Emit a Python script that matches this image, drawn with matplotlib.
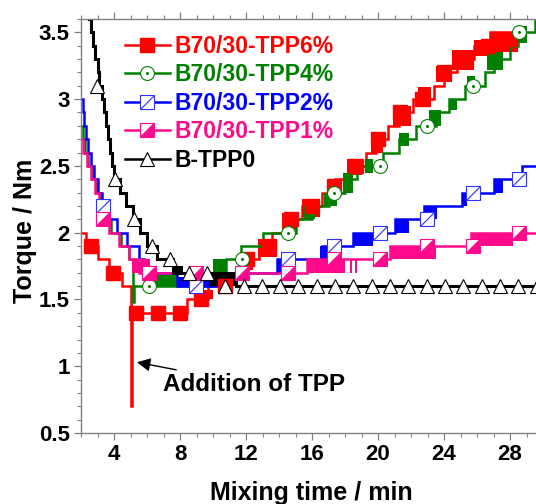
import matplotlib
matplotlib.use('Agg')
import matplotlib.pyplot as plt
from matplotlib.lines import Line2D
from matplotlib.path import Path
from matplotlib.legend_handler import HandlerTuple
from matplotlib.ticker import MultipleLocator, FixedLocator

plt.rcParams['font.family'] = ['Liberation Sans', 'DejaVu Sans']
plt.rcParams['font.weight'] = 'bold'

# ---------------- data ----------------
labels = ['B70/30-TPP6%', 'B70/30-TPP4%', 'B70/30-TPP2%', 'B70/30-TPP1%', 'B-TPP0']
colors = ['#ff0000', '#008000', '#0000ff', '#ff0a8c', '#000000']

# B70/30-TPP6% (red) : step curve
red_t = [2.00, 2.30, 3.00, 3.70, 4.50, 5.00, 5.08, 8.40, 9.70, 11.00, 11.80, 12.80, 13.60, 14.30,
         15.40, 16.60, 17.40, 18.20, 19.30, 19.90, 20.60, 21.30, 22.10, 23.40, 24.00, 24.80,
         25.80, 26.80, 28.00, 28.60]
red_T = [2.00, 1.90, 1.80, 1.70, 1.60, 0.70, 1.40, 1.50, 1.60, 1.70, 1.80, 1.90, 2.00, 2.10,
         2.20, 2.30, 2.40, 2.50, 2.60, 2.70, 2.80, 2.90, 3.00, 3.10, 3.20, 3.30,
         3.40, 3.50, 3.45, 3.45]
red_b_t0 = [9.20, 10.60, 11.80, 12.70, 14.20, 15.40, 17.00, 18.10, 19.60, 20.90, 22.40, 23.50, 24.50, 25.80, 26.80]
red_b_t1 = [10.00, 11.20, 12.40, 13.90, 15.10, 16.50, 17.80, 19.00, 20.30, 22.00, 23.20, 24.50, 25.80, 27.00, 28.50]
red_b_lo = [1.50, 1.60, 1.72, 1.82, 2.02, 2.12, 2.33, 2.43, 2.60, 2.80, 2.94, 3.13, 3.22, 3.32, 3.35]
red_b_hi = [1.57, 1.70, 1.82, 1.95, 2.15, 2.25, 2.38, 2.55, 2.75, 2.95, 3.09, 3.25, 3.37, 3.44, 3.50]
red_mk_t = [2.60, 3.95, 5.33, 6.65, 8.00, 9.30, 10.70, 12.04, 13.37, 14.70, 16.03, 17.36, 18.69,
            20.02, 21.35, 22.68, 24.01, 25.34, 26.67, 28.00]
red_mk_T = [1.90, 1.70, 1.40, 1.40, 1.40, 1.50, 1.60, 1.80, 1.90, 2.10, 2.20, 2.35, 2.50,
            2.70, 2.90, 3.00, 3.20, 3.30, 3.40, 3.45]

# B70/30-TPP4% (green)
green_t = [2.00, 2.10, 2.25, 2.45, 2.65, 2.90, 3.15, 3.40, 3.80, 4.40, 4.90, 5.15, 5.22, 10.00,
           10.80, 11.70, 13.00, 15.00, 16.00, 17.00, 18.00, 18.70, 20.30, 21.30, 22.30, 23.50,
           24.30, 25.30, 26.50, 27.00, 28.00, 28.50, 29.50, 29.60]
green_T = [2.80, 2.70, 2.60, 2.50, 2.40, 2.30, 2.20, 2.10, 2.00, 1.90, 1.80, 1.48, 1.60, 1.70,
           1.80, 1.90, 2.00, 2.10, 2.20, 2.30, 2.40, 2.50, 2.60, 2.70, 2.80, 2.90,
           3.00, 3.10, 3.20, 3.30, 3.40, 3.50, 3.60, 3.60]
green_b_t0 = [6.40, 10.00, 15.50, 16.70, 17.90, 19.20, 21.30, 23.10, 24.30, 25.40, 26.60, 28.50]
green_b_t1 = [7.80, 10.80, 16.20, 17.50, 18.50, 19.70, 21.90, 23.80, 24.80, 25.90, 27.60, 29.00]
green_b_lo = [1.60, 1.70, 2.10, 2.20, 2.30, 2.45, 2.65, 2.80, 2.92, 3.08, 3.22, 3.42]
green_b_hi = [1.70, 1.80, 2.20, 2.30, 2.45, 2.55, 2.75, 2.92, 3.00, 3.17, 3.35, 3.55]
green_mk_t = [3.35, 6.15, 8.95, 11.75, 14.55, 17.35, 20.15, 22.95, 25.75, 28.55]
green_mk_T = [2.15, 1.60, 1.62, 1.80, 2.00, 2.30, 2.50, 2.80, 3.10, 3.50]

# B70/30-TPP2% (blue)
blue_t = [2.00, 2.10, 2.20, 2.30, 2.45, 2.60, 2.80, 3.05, 3.30, 3.70, 4.20, 4.80, 5.50, 5.80,
          7.80, 10.40, 13.90, 14.70, 16.60, 18.50, 19.70, 21.00, 21.90, 22.80, 23.70, 25.10,
          25.40, 27.00, 27.60, 28.70, 29.60]
blue_T = [3.00, 2.90, 2.80, 2.70, 2.60, 2.50, 2.40, 2.30, 2.20, 2.10, 2.00, 1.90, 1.80, 1.70,
          1.60, 1.70, 1.80, 1.80, 1.90, 2.00, 2.00, 2.10, 2.10, 2.20, 2.20, 2.30,
          2.30, 2.40, 2.40, 2.50, 2.50]
blue_b_t0 = [7.80, 13.90, 16.50, 18.50, 21.00, 22.80, 25.10, 27.00]
blue_b_t1 = [10.40, 14.70, 17.50, 19.70, 21.90, 23.60, 25.40, 27.60]
blue_b_lo = [1.60, 1.70, 1.80, 1.90, 2.00, 2.10, 2.20, 2.30]
blue_b_hi = [1.67, 1.80, 1.90, 2.00, 2.10, 2.20, 2.30, 2.40]
blue_mk_t = [3.35, 6.15, 8.95, 11.75, 14.55, 17.35, 20.15, 22.95, 25.75, 28.55]
blue_mk_T = [2.20, 1.70, 1.60, 1.70, 1.80, 1.90, 2.00, 2.10, 2.30, 2.40]

# B70/30-TPP1% (pink)
pink_t = [2.00, 2.15, 2.35, 2.60, 2.85, 3.10, 3.30, 3.70, 4.30, 4.90, 5.50, 15.70, 17.90,
          20.70, 23.50, 25.65, 28.20, 29.60]
pink_T = [2.70, 2.60, 2.50, 2.40, 2.30, 2.20, 2.10, 2.00, 1.90, 1.80, 1.70, 1.80, 1.80,
          1.90, 1.90, 2.00, 2.00, 2.00]
pink_b_t0 = [5.10, 15.70, 17.90, 18.30, 18.60, 20.70, 25.65]
pink_b_t1 = [6.20, 17.90, 18.00, 18.40, 18.70, 23.50, 28.20]
pink_b_lo = [1.70, 1.70, 1.70, 1.70, 1.70, 1.80, 1.90]
pink_b_hi = [1.80, 1.80, 1.80, 1.80, 1.80, 1.90, 2.00]
pink_mk_t = [3.35, 6.15, 8.95, 11.75, 14.55, 17.35, 20.15, 22.95, 25.75, 28.55]
pink_mk_T = [2.10, 1.70, 1.70, 1.70, 1.70, 1.80, 1.80, 1.90, 1.90, 2.00]

# B-TPP0 (black)
black_t = [2.50, 2.62, 2.75, 2.87, 3.00, 3.12, 3.25, 3.37, 3.50, 3.62, 3.75, 3.87, 4.00, 4.35,
           4.75, 5.15, 5.60, 6.00, 6.60, 7.60, 9.80, 11.40, 29.60]
black_T = [3.60, 3.50, 3.40, 3.30, 3.20, 3.10, 3.00, 2.90, 2.80, 2.70, 2.60, 2.50, 2.40, 2.30,
           2.20, 2.10, 2.00, 1.90, 1.80, 1.70, 1.70, 1.60, 1.60]
black_b_t0 = [7.70, 9.80]
black_b_t1 = [8.20, 11.40]
black_b_lo = [1.68, 1.60]
black_b_hi = [1.75, 1.70]
black_mk_t = [2.97, 4.08, 5.19, 6.30, 7.41, 8.52, 9.63, 10.74, 11.85, 12.96, 14.07, 15.18,
              16.29, 17.40, 18.51, 19.62, 20.73, 21.84, 22.95, 24.06, 25.17, 26.28, 27.39,
              28.50, 29.61]
black_mk_T = [3.10, 2.40, 2.10, 1.90, 1.80, 1.70, 1.70, 1.60, 1.60, 1.60, 1.60, 1.60,
              1.60, 1.60, 1.60, 1.60, 1.60, 1.60, 1.60, 1.60, 1.60, 1.60, 1.60,
              1.60, 1.60]

x_ticks = [4, 8, 12, 16, 20, 24, 28]
y_ticks = [0.5, 1, 1.5, 2, 2.5, 3, 3.5]
y_ticklabels = ['0.5', '1', '1.5', '2', '2.5', '3', '3.5']

# ---------------- figure ----------------
fig = plt.figure(figsize=(5.36, 5.04), dpi=100)
ax = fig.add_axes([81/536, 71/504, 455/536, 414/504])

series = [
    (red_t, red_T, red_b_t0, red_b_t1, red_b_lo, red_b_hi, 1.8),
    (green_t, green_T, green_b_t0, green_b_t1, green_b_lo, green_b_hi, 1.8),
    (blue_t, blue_T, blue_b_t0, blue_b_t1, blue_b_lo, blue_b_hi, 1.8),
    (pink_t, pink_T, pink_b_t0, pink_b_t1, pink_b_lo, pink_b_hi, 1.8),
    (black_t, black_T, black_b_t0, black_b_t1, black_b_lo, black_b_hi, 2.2),
]
for i, (t, T, b0, b1, blo, bhi, lw) in enumerate(series):
    c = colors[i]
    ax.plot(t, T, drawstyle='steps-post', color=c, lw=lw, zorder=2 + i * 0.1,
            solid_joinstyle='miter')
    for a0, a1, lo, hi in zip(b0, b1, blo, bhi):
        ax.fill_between([a0, a1], [lo, lo], [hi, hi], color=c, lw=0, zorder=2 + i * 0.1)

diag = Path([(-1, -1), (1, 1)], [Path.MOVETO, Path.LINETO])
tri = Path([(-1, -1), (1, -1), (1, 1), (-1, -1)],
           [Path.MOVETO, Path.LINETO, Path.LINETO, Path.CLOSEPOLY])
ms = 10
mew = 0.8
# markers
ax.plot(red_mk_t, red_mk_T, ls='none', marker='s', ms=ms, mfc=colors[0], mec=colors[0], zorder=5)
ax.plot(green_mk_t, green_mk_T, ls='none', marker='o', ms=ms, mfc='white', mec=colors[1], mew=mew, zorder=5.1)
ax.plot(green_mk_t, green_mk_T, ls='none', marker='o', ms=1.2, mfc=colors[1], mec=colors[1], zorder=5.15)
ax.plot(blue_mk_t, blue_mk_T, ls='none', marker='s', ms=ms, mfc='white', mec='#3030ff', mew=mew, zorder=5.2)
ax.plot(blue_mk_t, blue_mk_T, ls='none', marker=diag, ms=ms, mec='#3030ff', mew=mew, zorder=5.25)
ax.plot(pink_mk_t, pink_mk_T, ls='none', marker='s', ms=ms, mfc='white', mec=colors[3], mew=mew, zorder=5.3)
ax.plot(pink_mk_t, pink_mk_T, ls='none', marker=tri, ms=ms, mfc=colors[3], mec=colors[3], mew=0.3, zorder=5.35)
ax.plot(black_mk_t, black_mk_T, ls='none', marker='^', ms=ms, mfc='white', mec='black', mew=mew, zorder=5.4)

# axes
ax.set_xlim(2, 2 + 455 / 16.5)
ax.set_ylim(0.5, 3.6)
ax.xaxis.set_major_locator(FixedLocator(x_ticks))
ax.xaxis.set_minor_locator(MultipleLocator(1))
ax.yaxis.set_major_locator(FixedLocator(y_ticks))
ax.yaxis.set_minor_locator(MultipleLocator(0.1))
ax.set_yticklabels(y_ticklabels)
ax.set_xticklabels([str(v) for v in x_ticks])
for s in ['left', 'bottom', 'top']:
    ax.spines[s].set_color('#808080')
    ax.spines[s].set_linewidth(1.0)
ax.spines['right'].set_visible(False)
ax.tick_params(which='both', direction='out', colors='#808080', labelcolor='black',
               labelsize=16, top=True, right=False)
ax.tick_params(which='major', length=5, width=0.9, pad=3)
ax.tick_params(which='minor', length=3, width=0.8)
for lab in ax.get_xticklabels() + ax.get_yticklabels():
    lab.set_fontweight('bold')

fig.text(25/536, 1 - 231/504, 'Torque / Nm', rotation=90, ha='center', va='center',
         fontsize=18, fontweight='bold')
fig.text(311/536, 1 - 493/504, 'Mixing time / min', ha='center', va='center',
         fontsize=18, fontweight='bold')

ax.annotate('Addition of TPP', xy=(5.39, 1.03), xytext=(6.97, 0.86), ha='left', va='center',
            fontsize=17.5, fontweight='bold',
            arrowprops=dict(arrowstyle='-|>', color='black', lw=1.0, mutation_scale=20,
                            shrinkA=3, shrinkB=0))

# legend
h_red = Line2D([], [], color=colors[0], lw=1.8, marker='s', ms=ms, mfc=colors[0], mec=colors[0])
h_green = (Line2D([], [], color=colors[1], lw=1.8, marker='o', ms=ms, mfc='white', mec=colors[1], mew=mew),
           Line2D([], [], ls='none', marker='o', ms=1.2, mfc=colors[1], mec=colors[1]))
h_blue = (Line2D([], [], color=colors[2], lw=1.8, marker='s', ms=ms, mfc='white', mec='#3030ff', mew=mew),
          Line2D([], [], ls='none', marker=diag, ms=ms, mec='#3030ff', mew=mew))
h_pink = (Line2D([], [], color=colors[3], lw=1.8, marker='s', ms=ms, mfc='white', mec=colors[3], mew=mew),
          Line2D([], [], ls='none', marker=tri, ms=ms, mfc=colors[3], mec=colors[3], mew=0.3))
h_black = Line2D([], [], color='black', lw=1.8, marker='^', ms=ms, mfc='white', mec='black', mew=mew)
leg = ax.legend([h_red, h_green, h_blue, h_pink, h_black], labels,
                handler_map={tuple: HandlerTuple(ndivide=1, pad=0)},
                loc='upper left', bbox_to_anchor=(0.097, 0.962), frameon=False,
                prop={'size': 16.5, 'weight': 'bold'}, handlelength=1.95,
                handletextpad=0.2, labelspacing=0.24, borderpad=0, borderaxespad=0)
for txt, c in zip(leg.get_texts(), colors):
    txt.set_color(c)
leg.set_zorder(10)

fig.savefig('out.png', dpi=100)
